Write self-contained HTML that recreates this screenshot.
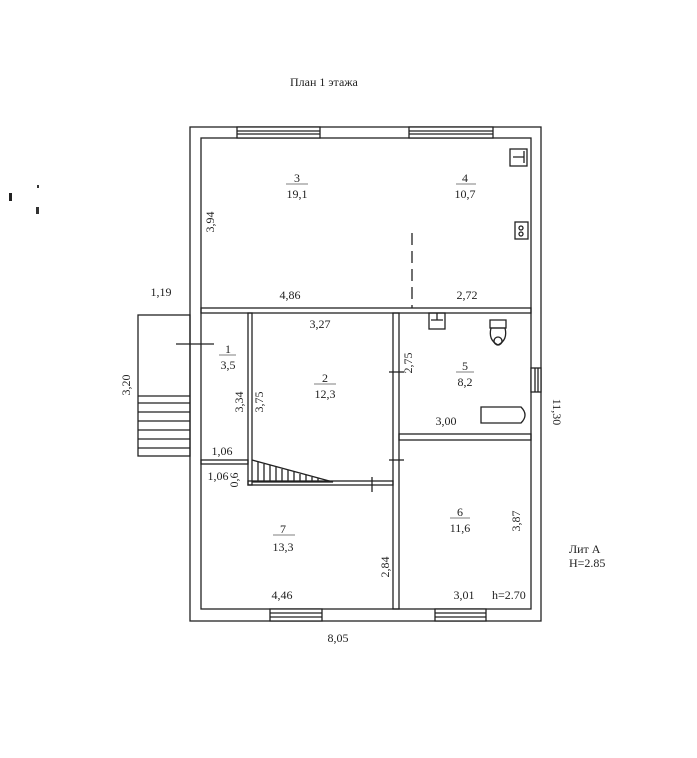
<!DOCTYPE html>
<html><head><meta charset="utf-8"><style>
html,body{margin:0;padding:0;background:#fff}
svg{display:block}
text{font-family:"Liberation Serif",serif;font-size:12px;fill:#222}
</style></head><body>
<svg width="697" height="758" viewBox="0 0 697 758" xmlns="http://www.w3.org/2000/svg">
<rect width="697" height="758" fill="#fff"/>
<text x="290" y="86" font-size="13">План 1 этажа</text>
<!-- specks -->
<rect x="9" y="193" width="3" height="8" fill="#222"/>
<rect x="37" y="185" width="2" height="3" fill="#333"/>
<rect x="36" y="207" width="3" height="7" fill="#333"/>
<g fill="none" stroke="#222" stroke-width="1.3">
<!-- outer / inner walls -->
<rect x="190" y="127" width="351" height="494"/>
<rect x="201" y="138" width="330" height="471"/>
<!-- windows top -->
<rect x="237" y="127" width="83" height="11" fill="#fff"/>
<line x1="237" y1="131" x2="320" y2="131"/><line x1="237" y1="134" x2="320" y2="134"/>
<rect x="409" y="127" width="84" height="11" fill="#fff"/>
<line x1="409" y1="131" x2="493" y2="131"/><line x1="409" y1="134" x2="493" y2="134"/>
<!-- windows bottom -->
<rect x="270" y="609" width="52" height="12" fill="#fff"/>
<line x1="270" y1="613" x2="322" y2="613"/><line x1="270" y1="617" x2="322" y2="617"/>
<rect x="435" y="609" width="51" height="12" fill="#fff"/>
<line x1="435" y1="613" x2="486" y2="613"/><line x1="435" y1="617" x2="486" y2="617"/>
<!-- right window -->
<rect x="531" y="368" width="10" height="24" fill="#fff"/>
<line x1="535" y1="368" x2="535" y2="392"/><line x1="538" y1="368" x2="538" y2="392"/>
<!-- horizontal wall -->
<rect x="201" y="308" width="330" height="5"/>
<!-- room 1/2 wall -->
<rect x="248" y="313" width="4" height="172"/>
<!-- wall 1/7 -->
<rect x="201" y="460" width="47" height="4"/>
<!-- room2 bottom -->
<rect x="248" y="481" width="145" height="4"/>
<!-- wall 2/5, 7/6 -->
<rect x="393" y="313" width="6" height="296"/>
<!-- wall 5/6 -->
<rect x="399" y="434" width="132" height="6"/>
<!-- door ticks -->
<line x1="389" y1="372" x2="404" y2="372"/>
<line x1="389" y1="460" x2="404" y2="460"/>
<line x1="372" y1="477" x2="372" y2="492"/>
<line x1="176" y1="344" x2="214" y2="344"/>
<!-- outside stairs -->
<rect x="138" y="315" width="52" height="141"/>
<line x1="138" y1="396" x2="190" y2="396"/>
<line x1="138" y1="403" x2="190" y2="403"/>
<line x1="138" y1="412" x2="190" y2="412"/>
<line x1="138" y1="421" x2="190" y2="421"/>
<line x1="138" y1="430" x2="190" y2="430"/>
<line x1="138" y1="439" x2="190" y2="439"/>
<line x1="138" y1="448" x2="190" y2="448"/>
<!-- inside stair -->
<polyline points="252,460 333,482 252,482"/>
<path d="M258 462V482M264 464V482M270 465V482M276 467V482M282 469V482M288 470V482M294 472V482M300 474V482M306 475V482M312 477V482M318 478V482"/>
<!-- dashed -->
<line x1="412" y1="233" x2="412" y2="308" stroke-dasharray="12,6"/>
<!-- fixtures -->
<rect x="510" y="149" width="17" height="17"/>
<path d="M513 157H524M524 151V163"/>
<rect x="515" y="222" width="13" height="17"/>
<circle cx="521" cy="228" r="2"/><circle cx="521" cy="234" r="2"/>
<rect x="429" y="313" width="16" height="16"/>
<path d="M431 320H443M437 313V320"/>
<path d="M490 320h16v8h-16z"/>
<path d="M491 328 q-3 12 7 17 q10 -5 7 -17z"/>
<circle cx="498" cy="341" r="4"/>
<path d="M481 407h40q8 8 0 16h-40z"/>
</g>
<!-- labels -->
<g text-anchor="middle">
<text x="297" y="182">3</text><line x1="286" y1="184" x2="308" y2="184" stroke="#555" stroke-width="0.8"/>
<text x="297" y="198">19,1</text>
<text x="465" y="182">4</text><line x1="456" y1="184" x2="476" y2="184" stroke="#555" stroke-width="0.8"/>
<text x="465" y="198">10,7</text>
<text x="228" y="353">1</text><line x1="219" y1="355" x2="236" y2="355" stroke="#555" stroke-width="0.8"/>
<text x="228" y="369">3,5</text>
<text x="325" y="382">2</text><line x1="314" y1="384" x2="336" y2="384" stroke="#555" stroke-width="0.8"/>
<text x="325" y="398">12,3</text>
<text x="465" y="370">5</text><line x1="456" y1="372" x2="474" y2="372" stroke="#555" stroke-width="0.8"/>
<text x="465" y="386">8,2</text>
<text x="460" y="516">6</text><line x1="450" y1="518" x2="470" y2="518" stroke="#555" stroke-width="0.8"/>
<text x="460" y="532">11,6</text>
<text x="283" y="533">7</text><line x1="273" y1="535" x2="295" y2="535" stroke="#555" stroke-width="0.8"/>
<text x="283" y="551">13,3</text>
<text x="161" y="296">1,19</text>
<text x="290" y="299">4,86</text>
<text x="467" y="299">2,72</text>
<text x="320" y="328">3,27</text>
<text x="446" y="425">3,00</text>
<text x="222" y="455">1,06</text>
<text x="218" y="480">1,06</text>
<text x="282" y="599">4,46</text>
<text x="464" y="599">3,01</text>
<text x="338" y="642">8,05</text>
</g>
<text x="492" y="599">h=2.70</text>
<text x="569" y="553" fill="#444">Лит А</text>
<text x="569" y="567" fill="#444">Н=2.85</text>
<g text-anchor="middle">
<text transform="translate(214,222) rotate(-90)">3,94</text>
<text transform="translate(130,385) rotate(-90)">3,20</text>
<text transform="translate(243,402) rotate(-90)">3,34</text>
<text transform="translate(263,402) rotate(-90)">3,75</text>
<text transform="translate(412,363) rotate(-90)">2,75</text>
<text transform="translate(553,412) rotate(90)">11,30</text>
<text transform="translate(238,480) rotate(-90)">0,6</text>
<text transform="translate(389,567) rotate(-90)">2,84</text>
<text transform="translate(520,521) rotate(-90)">3,87</text>
</g>
</svg>
</body></html>
